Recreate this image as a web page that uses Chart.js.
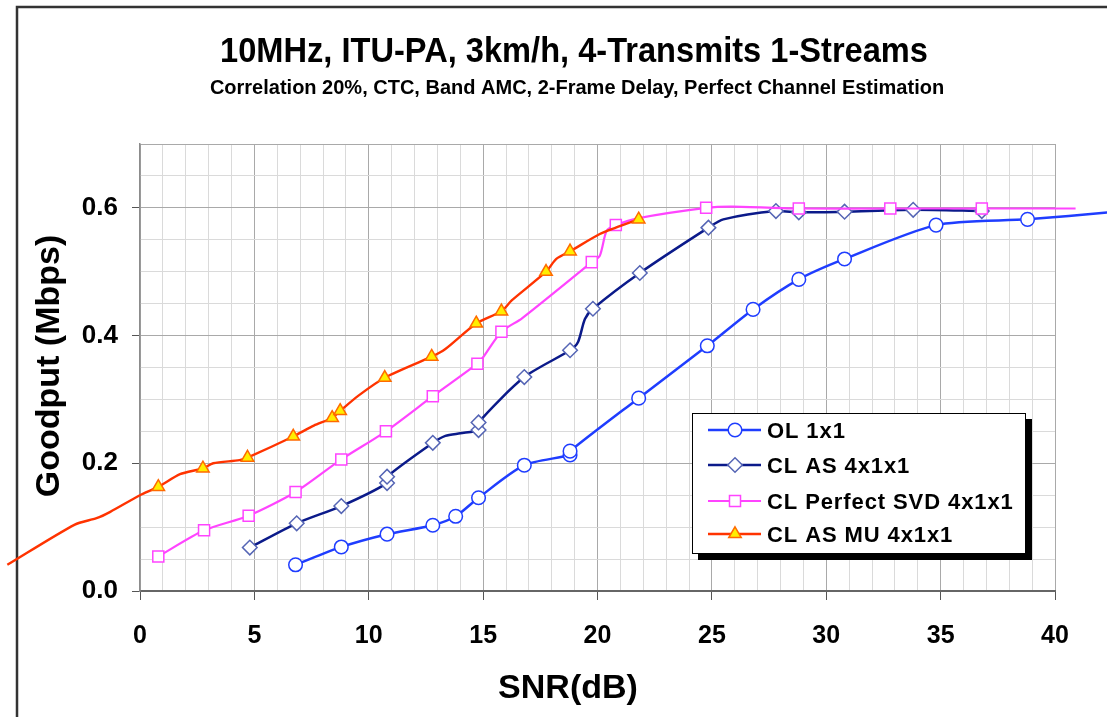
<!DOCTYPE html>
<html>
<head>
<meta charset="utf-8">
<title>Goodput vs SNR</title>
<script src="https://cdn.jsdelivr.net/npm/chart.js@4.4.1/dist/chart.umd.min.js"></script>
<style>
  html, body { margin: 0; padding: 0; background: #fff; }
  #wrap { width: 1107px; height: 717px; }
</style>
</head>
<body>
<div id="wrap"><canvas id="chart" width="1107" height="717"></canvas></div>
<script>
// values (SNR in dB, goodput in Mbps); mark = 1 where a marker is shown
const olSnr     = [6.8, 8.8, 10.8, 12.8, 13.8, 14.8, 16.8, 18.8, 18.8, 21.8, 24.8, 26.8, 28.8, 30.8, 34.8, 38.8, 42.4];
const olGoodput = [0.041, 0.069, 0.089, 0.103, 0.117, 0.146, 0.197, 0.213, 0.219, 0.302, 0.384, 0.441, 0.488, 0.520, 0.573, 0.582, 0.593];
const olMark    = [1, 1, 1, 1, 1, 1, 1, 1, 1, 1, 1, 1, 1, 1, 1, 1, 0];

const asSnr     = [4.8, 6.85, 8.8, 10.8, 10.8, 12.8, 13.35, 14.0, 14.8, 14.8, 16.8, 18.8, 19.15, 19.45, 19.8, 21.85, 24.85, 25.5, 27.8, 28.8, 30.8, 33.8, 36.8];
const asGoodput = [0.068, 0.106, 0.133, 0.169, 0.179, 0.232, 0.243, 0.247, 0.252, 0.264, 0.335, 0.377, 0.390, 0.426, 0.442, 0.498, 0.569, 0.582, 0.595, 0.593, 0.594, 0.597, 0.595];
const asMark    = [1, 1, 1, 1, 1, 1, 0, 0, 1, 1, 1, 1, 0, 0, 1, 1, 1, 0, 1, 1, 1, 1, 1];

const svdSnr     = [0.8, 2.8, 4.75, 6.8, 8.8, 10.75, 12.8, 14.75, 15.0, 15.8, 16.7, 19.75, 20.1, 20.4, 20.8, 21.8, 24.75, 25.9, 28.8, 32.8, 36.8, 40.9];
const svdGoodput = [0.054, 0.095, 0.118, 0.155, 0.206, 0.250, 0.305, 0.356, 0.366, 0.406, 0.427, 0.515, 0.525, 0.564, 0.573, 0.584, 0.600, 0.602, 0.599, 0.599, 0.599, 0.599];
const svdMark    = [1, 1, 1, 1, 1, 1, 1, 1, 0, 1, 0, 1, 0, 0, 1, 0, 1, 0, 1, 1, 1, 0];

const muSnr     = [-5.8, -2.85, -1.9, -1.3, 0, 0.8, 1.75, 2.75, 3.2, 4.35, 4.7, 6.7, 7.6, 8.4, 8.75, 9.55, 10.7, 12.75, 13.35, 14.7, 15.8, 16.25, 17.75, 18.2, 18.8, 20.1, 20.8, 21.8];
const muGoodput = [0.041, 0.104, 0.114, 0.124, 0.150, 0.163, 0.183, 0.192, 0.200, 0.205, 0.209, 0.242, 0.259, 0.271, 0.282, 0.306, 0.334, 0.367, 0.379, 0.419, 0.438, 0.455, 0.500, 0.520, 0.532, 0.559, 0.569, 0.582];
const muMark    = [0, 0, 0, 0, 0, 1, 0, 1, 0, 0, 1, 1, 0, 1, 1, 0, 1, 1, 0, 1, 1, 0, 1, 0, 1, 0, 0, 1];

const xRange = [0, 40];
const yRange = [0, 0.7];

const FONT = "'Liberation Sans', Arial, Helvetica, sans-serif";
Chart.defaults.font.family = FONT;

const series = [
  { label: 'OL 1x1', x: olSnr, y: olGoodput, mark: olMark, line: '#1f3dff', width: 2.5, style: 'circle', fill: '#ffffff', edge: '#1f3dff', r: 6.8 },
  { label: 'CL AS 4x1x1', x: asSnr, y: asGoodput, mark: asMark, line: '#0b1a8a', width: 2.5, style: 'rectRot', fill: '#ffffff', edge: '#5565b5', r: 7.3 },
  { label: 'CL Perfect SVD 4x1x1', x: svdSnr, y: svdGoodput, mark: svdMark, line: '#ff44ff', width: 2.2, style: 'rect', fill: '#ffffff', edge: '#ff44ff', r: 7.8 },
  { label: 'CL AS MU 4x1x1', x: muSnr, y: muGoodput, mark: muMark, line: '#ff3300', width: 2.4, style: 'triangle', fill: '#ffee00', edge: '#ff6a00', r: 7.2 }
];

const toXY = (xs, ys) => xs.map((x, i) => ({ x, y: ys[i] }));
const isMajorY = v => Math.abs(v / 0.2 - Math.round(v / 0.2)) < 1e-6;
const isMajorX = v => Math.abs(v % 5) < 1e-6;

// white page plus the outer frame lines
const framePlugin = {
  id: 'frame',
  beforeDraw(chart) {
    const ctx = chart.ctx;
    ctx.save();
    ctx.fillStyle = '#fff';
    ctx.fillRect(0, 0, chart.width, chart.height);
    ctx.strokeStyle = '#333';
    ctx.lineWidth = 2.5;
    ctx.beginPath();
    ctx.moveTo(17, 717);
    ctx.lineTo(17, 7);
    ctx.lineTo(1107, 7);
    ctx.stroke();
    ctx.restore();
  }
};

// titles and axis titles
const textPlugin = {
  id: 'texts',
  afterDraw(chart) {
    const ctx = chart.ctx;
    ctx.save();
    ctx.fillStyle = '#000';
    ctx.textAlign = 'center';
    ctx.textBaseline = 'alphabetic';
    ctx.font = 'bold 35px ' + FONT;
    ctx.fillText('10MHz, ITU-PA, 3km/h, 4-Transmits 1-Streams', 574, 62, 708);
    ctx.font = 'bold 20px ' + FONT;
    ctx.fillText('Correlation 20%, CTC, Band AMC, 2-Frame Delay, Perfect Channel Estimation', 577, 94, 775);
    ctx.font = 'bold 34px ' + FONT;
    ctx.fillText('SNR(dB)', 568, 698);
    ctx.translate(59, 366);
    ctx.rotate(-Math.PI / 2);
    ctx.fillText('Goodput (Mbps)', 0, 0);
    ctx.restore();
  }
};

// boxed legend with a drop shadow, line + marker samples
const legendPlugin = {
  id: 'boxLegend',
  afterDraw(chart) {
    const ctx = chart.ctx;
    const box = { x: 692, y: 413, w: 334, h: 141 };
    ctx.save();
    ctx.fillStyle = '#000';
    ctx.fillRect(box.x + 6, box.y + 6, box.w, box.h);
    ctx.fillStyle = '#fff';
    ctx.fillRect(box.x, box.y, box.w, box.h);
    ctx.strokeStyle = '#000';
    ctx.lineWidth = 1;
    ctx.strokeRect(box.x + 0.5, box.y + 0.5, box.w - 1, box.h - 1);
    const rows = [430, 465, 501, 534];
    series.forEach((s, i) => {
      const y = rows[i];
      ctx.strokeStyle = s.line;
      ctx.lineWidth = s.width;
      ctx.beginPath();
      ctx.moveTo(708, y);
      ctx.lineTo(761, y);
      ctx.stroke();
      ctx.fillStyle = s.fill;
      ctx.strokeStyle = s.edge;
      ctx.lineWidth = 1.5;
      Chart.helpers.drawPoint(ctx, { pointStyle: s.style, radius: s.r, rotation: 0, borderWidth: 1.5 }, 735, y);
      ctx.fillStyle = '#000';
      ctx.font = 'bold 22px ' + FONT;
      ctx.textBaseline = 'alphabetic';
      ctx.letterSpacing = '0.9px';
      ctx.fillText(s.label, 767, y + 8);
    });
    ctx.restore();
  }
};

new Chart(document.getElementById('chart'), {
  type: 'line',
  data: {
    datasets: series.map((s, i) => ({
      label: s.label,
      data: toXY(s.x, s.y),
      borderColor: s.line,
      borderWidth: s.width,
      pointStyle: s.style,
      pointRadius: s.mark.map(m => m ? s.r : 0),
      pointHoverRadius: s.mark.map(m => m ? s.r : 0),
      pointBackgroundColor: s.fill,
      pointBorderColor: s.edge,
      pointBorderWidth: 1.5,
      tension: 0.25,
      fill: false,
      clip: false,
      order: series.length - i
    }))
  },
  options: {
    responsive: false,
    animation: false,
    events: [],
    layout: { padding: { left: 0, top: 144, right: 52, bottom: 0 } },
    plugins: {
      legend: { display: false },
      tooltip: { enabled: false }
    },
    scales: {
      x: {
        type: 'linear',
        // set limits here instead of min/max so the lines may run past the plot edges
        afterDataLimits: sc => { sc.min = xRange[0]; sc.max = xRange[1]; },
        afterFit: sc => { sc.height = 126; },
        ticks: {
          stepSize: 1,
          autoSkip: false,
          maxRotation: 0,
          padding: 21,
          color: '#000',
          font: { size: 25, weight: 'bold' },
          callback: v => isMajorX(v) ? String(v) : ''
        },
        grid: {
          color: c => (c.tick && isMajorX(c.tick.value)) ? '#a9a9a9' : '#dadada',
          tickColor: c => (c.tick && isMajorX(c.tick.value)) ? '#555' : 'rgba(0,0,0,0)',
          tickLength: 9,
          lineWidth: 1
        },
        border: { color: '#666', width: 2 }
      },
      y: {
        min: yRange[0],
        max: yRange[1],
        afterFit: sc => { sc.width = 140; },
        ticks: {
          stepSize: 0.05,
          autoSkip: false,
          padding: 14,
          color: '#000',
          font: { size: 26, weight: 'bold' },
          callback: v => isMajorY(v) ? v.toFixed(1) : ''
        },
        grid: {
          color: c => (c.tick && (isMajorY(c.tick.value) || c.tick.value >= yRange[1] - 1e-9)) ? '#a9a9a9' : '#dadada',
          tickColor: c => (c.tick && isMajorY(c.tick.value)) ? '#555' : 'rgba(0,0,0,0)',
          tickLength: 8,
          lineWidth: 1
        },
        border: { color: '#8c8c8c', width: 1.5 }
      }
    }
  },
  plugins: [framePlugin, textPlugin, legendPlugin]
});
</script>
</body>
</html>
